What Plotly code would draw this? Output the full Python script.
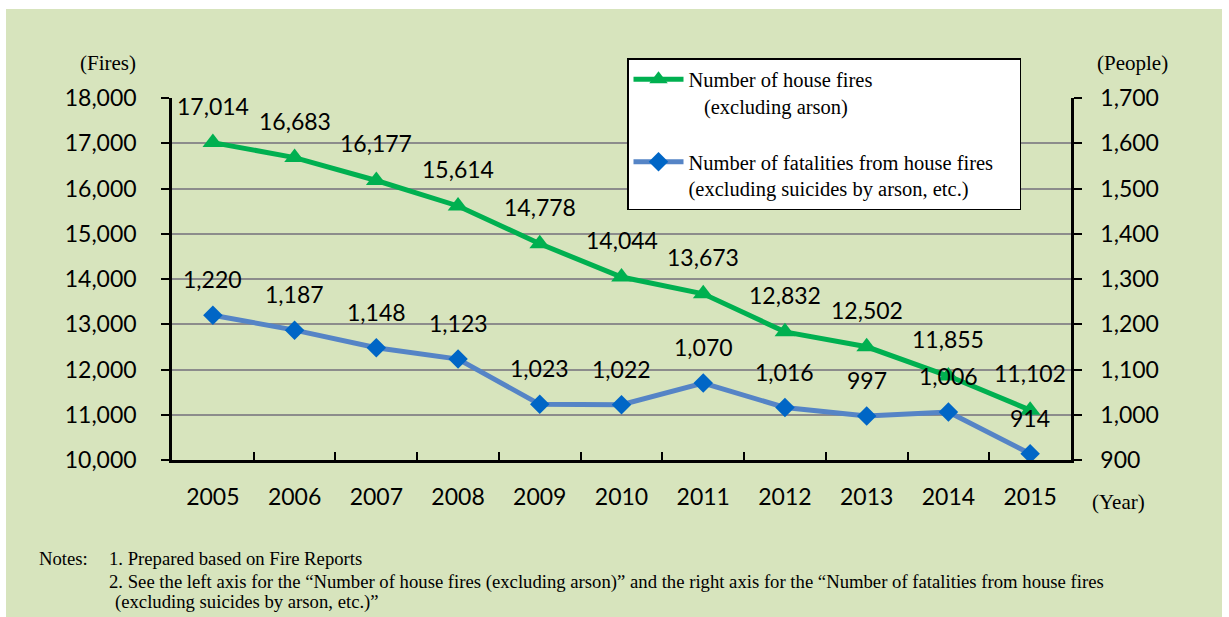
import plotly.graph_objects as go

years = ["2005", "2006", "2007", "2008", "2009", "2010", "2011", "2012", "2013", "2014", "2015"]
house_fires = [17014, 16683, 16177, 15614, 14778, 14044, 13673, 12832, 12502, 11855, 11102]
fatalities = [1220, 1187, 1148, 1123, 1023, 1022, 1070, 1016, 997, 1006, 914]
fires_ticks = [10000, 11000, 12000, 13000, 14000, 15000, 16000, 17000, 18000]
people_ticks = [900, 1000, 1100, 1200, 1300, 1400, 1500, 1600, 1700]
name_fires = "Number of house fires<br>\u00a0\u00a0\u00a0(excluding arson)"
name_deaths = "Number of fatalities from house fires\u00a0\u00a0\u00a0\u00a0<br>(excluding suicides by arson, etc.)"
notes = [
    "1. Prepared based on Fire Reports",
    "2. See the left axis for the \u201cNumber of house fires (excluding arson)\u201d and the right axis for the \u201cNumber of fatalities from house fires",
    "(excluding suicides by arson, etc.)\u201d",
]

GREEN = "#00B050"
BLUE_LINE = "#5584C6"
BLUE_MARK = "#0066C6"
SANS = "Lato, Carlito, sans-serif"
LABEL_FONT = dict(family=SANS, size=23, color="black")
SERIF = "Liberation Serif, Times New Roman, serif"

W, H = 1229, 617
L, R, T, B = 172, 158, 98, 157
pw, ph = W - L - R, H - T - B


def px(xp):
    return (xp - L) / pw


def py(yp):
    return (H - B - yp) / ph


fig = go.Figure()
fig.add_trace(go.Scatter(
    x=years, y=house_fires, name=name_fires, mode="lines+markers",
    line=dict(color=GREEN, width=5),
    marker=dict(symbol="triangle-up", size=18, color=GREEN),
    legendgroup="a", yaxis="y",
))
fig.add_trace(go.Scatter(
    x=years, y=fatalities, name=name_deaths, mode="lines+markers",
    line=dict(color=BLUE_LINE, width=5),
    marker=dict(symbol="diamond", size=15, color=BLUE_MARK),
    legendgroup="b", yaxis="y2",
))

annotations = []
for i, v in enumerate(house_fires):
    annotations.append(dict(x=i, y=v, xref="x", yref="y", text=f"{v:,}", showarrow=False,
                            yshift=37, font=LABEL_FONT))
for i, v in enumerate(fatalities):
    annotations.append(dict(x=i, y=v, xref="x", yref="y2", text=f"{v:,}", showarrow=False,
                            yshift=36, font=LABEL_FONT))

serif21 = dict(family=SERIF, size=21, color="black")
legendfont = dict(family=SERIF, size=20.5, color="black")
notefont = dict(family=SERIF, size=18.7, color="black")


def paper_text(x, y, text, font, xanchor="center"):
    return dict(x=px(x), y=py(y), xref="paper", yref="paper", text=text, showarrow=False,
                xanchor=xanchor, yanchor="middle", font=font)


annotations += [
    paper_text(108, 63, "(Fires)", serif21),
    paper_text(1132, 63, "(People)", serif21),
    paper_text(1118, 502, "(Year)", serif21),
    paper_text(37, 558, "Notes:", notefont, "left"),
]
note_y = [558, 582, 602]
note_x = [107, 107, 113]
for i, t in enumerate(notes):
    annotations.append(paper_text(note_x[i], note_y[i], t, notefont, "left"))

shapes = [
    dict(type="rect", xref="paper", yref="paper", x0=px(6), x1=px(1222), y0=py(9), y1=py(620),
         fillcolor="#D7E4BD", line=dict(width=0), layer="below"),
]

fig.update_layout(
    width=W, height=H,
    margin=dict(l=L, r=R, t=T, b=B, pad=0),
    paper_bgcolor="white", plot_bgcolor="#FFFFCC",
    shapes=shapes, annotations=annotations,
    showlegend=True,
    legend=dict(
        x=px(627), y=py(58), xanchor="left", yanchor="top",
        bgcolor="white", bordercolor="black", borderwidth=1.5,
        font=legendfont,
        traceorder="grouped", tracegroupgap=26, valign="top", itemwidth=50,
    ),
    xaxis=dict(
        type="category", range=[-0.5, 10.5], showgrid=False,
        showline=True, linecolor="black", linewidth=2.5,
        ticks="inside", tickson="boundaries", ticklen=8, tickwidth=2, tickcolor="black",
        tickfont=LABEL_FONT, ticklabelstandoff=15,
    ),
    yaxis=dict(
        range=[10000, 18000], tickvals=fires_ticks, ticktext=[f"{v:,}" for v in fires_ticks],
        showgrid=True, gridcolor="#8C8C8C", gridwidth=2,
        showline=True, linecolor="black", linewidth=2.5,
        ticks="outside", ticklen=8, tickwidth=2, tickcolor="black",
        tickfont=LABEL_FONT, ticklabelstandoff=20, zeroline=False,
    ),
    yaxis2=dict(
        range=[900, 1700], tickvals=people_ticks, ticktext=[f"{v:,}" for v in people_ticks],
        overlaying="y", side="right", showgrid=False,
        showline=True, linecolor="black", linewidth=2.5,
        ticks="outside", ticklen=8, tickwidth=2, tickcolor="black",
        tickfont=LABEL_FONT, ticklabelstandoff=14, zeroline=False,
    ),
)

fig.write_html("out.html", config={"displayModeBar": False},
               post_script="document.body.style.margin='0';")
